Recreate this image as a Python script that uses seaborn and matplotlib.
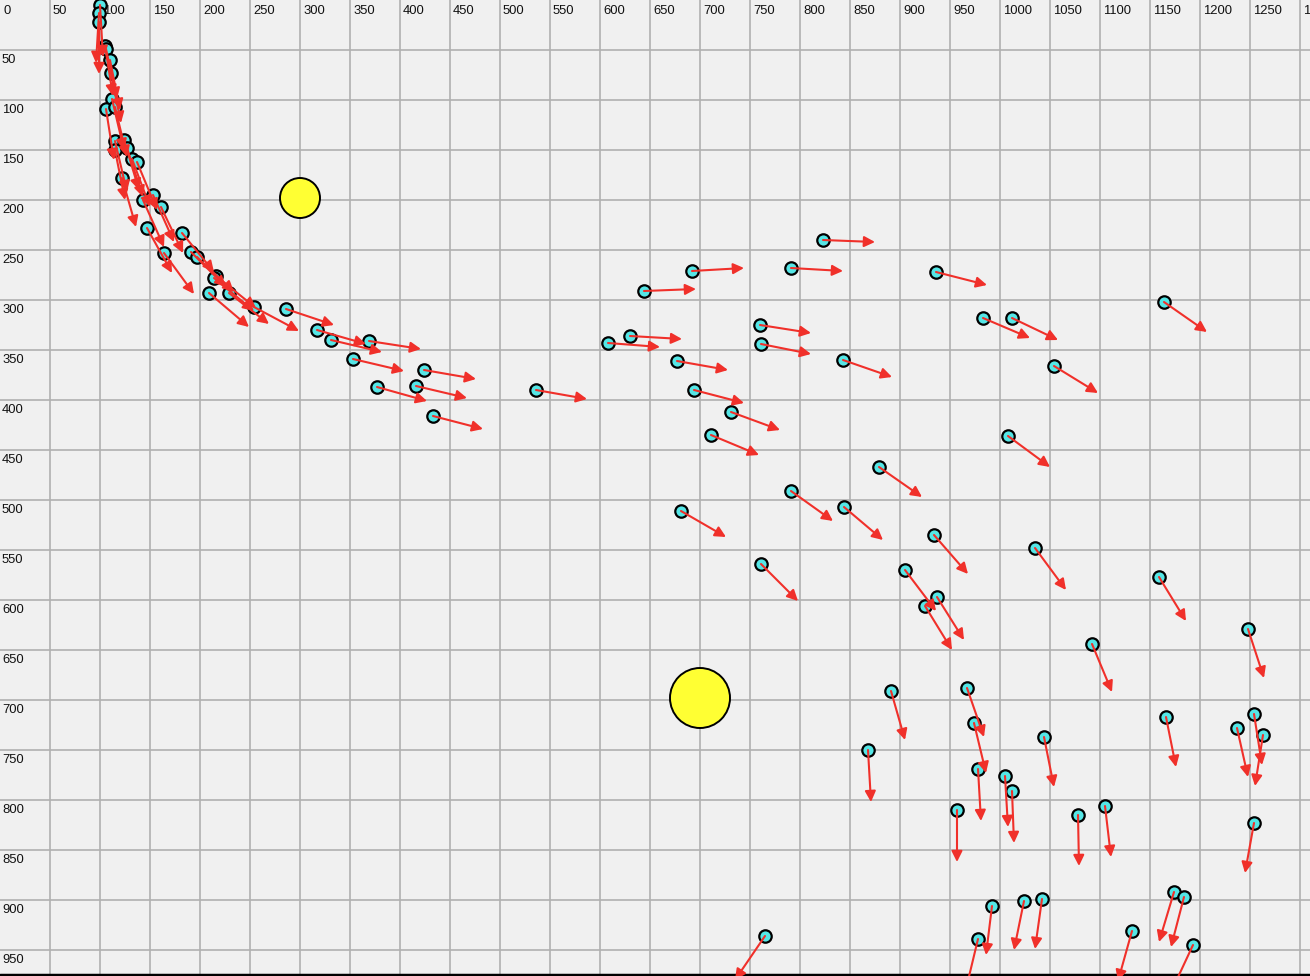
import numpy as np
import pandas as pd
import matplotlib
matplotlib.use('Agg')
import matplotlib.pyplot as plt
from matplotlib.patches import Circle
import seaborn as sns

# canvas size in px, grid spacing
W, H = 1310, 976
step = 50

# particle start positions and where the velocity arrow ends
x_start = [100, 99, 99, 105, 106, 110, 111, 112, 106, 115, 115, 124, 115, 127, 132, 137, 122, 143, 153, 161,
           147, 182, 191, 197, 164, 216, 214, 209, 229, 254, 286, 317, 331, 369, 353, 424, 377, 416, 433,
           536, 608, 630, 644, 692, 677, 694, 731, 711, 681, 760, 761, 791, 823, 843, 879, 791, 844, 761,
           936, 983, 1012, 1054, 1008, 1164, 934, 1035, 905, 937, 925, 1159, 1248, 1092, 891, 967, 974, 1044,
           868, 1166, 1237, 1254, 1263, 978, 1005, 1012, 957, 1078, 1105, 1254, 992, 1024, 1042, 978, 1174,
           1184, 1132, 1193, 765]
y_start = [5, 13, 22, 46, 49, 60, 73, 99, 109, 107, 141, 140, 150, 148, 159, 162, 178, 200, 195, 207,
           228, 233, 252, 257, 253, 276, 278, 293, 293, 307, 309, 330, 340, 341, 359, 370, 387, 386, 416,
           390, 343, 336, 291, 271, 361, 390, 412, 435, 511, 325, 344, 268, 240, 360, 467, 491, 507, 564,
           272, 318, 318, 366, 436, 302, 535, 548, 570, 597, 606, 577, 629, 644, 691, 688, 723, 737,
           750, 717, 728, 714, 735, 769, 776, 791, 810, 815, 806, 823, 906, 901, 899, 939, 892,
           897, 931, 945, 936]
x_end = [103, 96, 99, 113, 117, 120, 121, 124, 114, 127, 127, 139, 125, 143, 150, 157, 136, 164, 174, 183,
         172, 214, 226, 234, 194, 256, 254, 249, 269, 299, 334, 366, 382, 421, 404, 476, 427, 467, 483,
         587, 660, 682, 696, 744, 728, 744, 780, 759, 726, 811, 811, 843, 875, 892, 922, 833, 883, 798,
         987, 1030, 1058, 1098, 1050, 1207, 968, 1066, 936, 964, 952, 1186, 1264, 1112, 905, 984, 986, 1054,
         871, 1176, 1248, 1262, 1255, 981, 1008, 1014, 957, 1079, 1111, 1245, 986, 1014, 1035, 966, 1159,
         1171, 1118, 1172, 735]
y_end = [57, 63, 74, 96, 99, 110, 123, 150, 160, 157, 192, 190, 200, 197, 207, 210, 227, 247, 242, 253,
         273, 272, 287, 292, 294, 308, 311, 327, 324, 331, 325, 344, 352, 349, 371, 379, 401, 398, 429,
         399, 347, 339, 289, 268, 370, 403, 430, 455, 537, 333, 354, 271, 242, 377, 497, 521, 540, 601,
         285, 338, 340, 393, 467, 332, 574, 590, 611, 640, 650, 621, 678, 692, 740, 737, 773, 787,
         802, 767, 777, 765, 786, 821, 827, 843, 862, 866, 857, 873, 955, 950, 949, 989, 942,
         947, 981, 990, 980]

# the two yellow bodies: centre and radius (px)
body_x = [300, 700]
body_y = [198, 698]
body_r = [20, 30]

df = pd.DataFrame({'x': x_start, 'y': y_start})

sns.set_style('white', {'axes.facecolor': '#f0f0f0'})
plt.rcParams['font.family'] = ['Liberation Sans', 'DejaVu Sans']

fig = plt.figure(figsize=(W / 100, H / 100), dpi=100)
fig.patch.set_facecolor('#f0f0f0')
ax = fig.add_axes([0, 0, 1, 1])
ax.set_xlim(0, W)
ax.set_ylim(H, 0)
ax.axis('off')

# grid
for gx in range(step, W, step):
    ax.axvline(gx, color='#b0b0b0', lw=1.2, zorder=0)
for gy in range(step, H, step):
    ax.axhline(gy, color='#b0b0b0', lw=1.2, zorder=0)
ax.axhline(H - 1, color='black', lw=2.5, zorder=0)

# tick labels drawn inside the canvas
for gx in range(0, W, step):
    ax.text(gx + 3, 5, str(gx), ha='left', va='top', fontsize=9.4, color='#111111')
for gy in range(step, H, step):
    ax.text(2, gy + 4, str(gy), ha='left', va='top', fontsize=9.4, color='#111111')

# yellow bodies
for bx, by, br in zip(body_x, body_y, body_r):
    ax.add_patch(Circle((bx, by), br, facecolor='#ffff33', edgecolor='black', lw=1.4, zorder=2))

# particles
sns.scatterplot(data=df, x='x', y='y', ax=ax, s=80, color='#55e6e6', edgecolor='black',
                linewidth=1.6, zorder=3, legend=False)

# velocity arrows
for xs, ys, xe, ye in zip(x_start, y_start, x_end, y_end):
    ax.annotate('', xy=(xe, ye), xytext=(xs, ys),
                arrowprops=dict(arrowstyle='-|>', color='#f0302a', lw=1.5,
                                mutation_scale=16, shrinkA=0, shrinkB=0),
                zorder=4, annotation_clip=False)

fig.savefig('out.png', dpi=100, facecolor=fig.get_facecolor())
